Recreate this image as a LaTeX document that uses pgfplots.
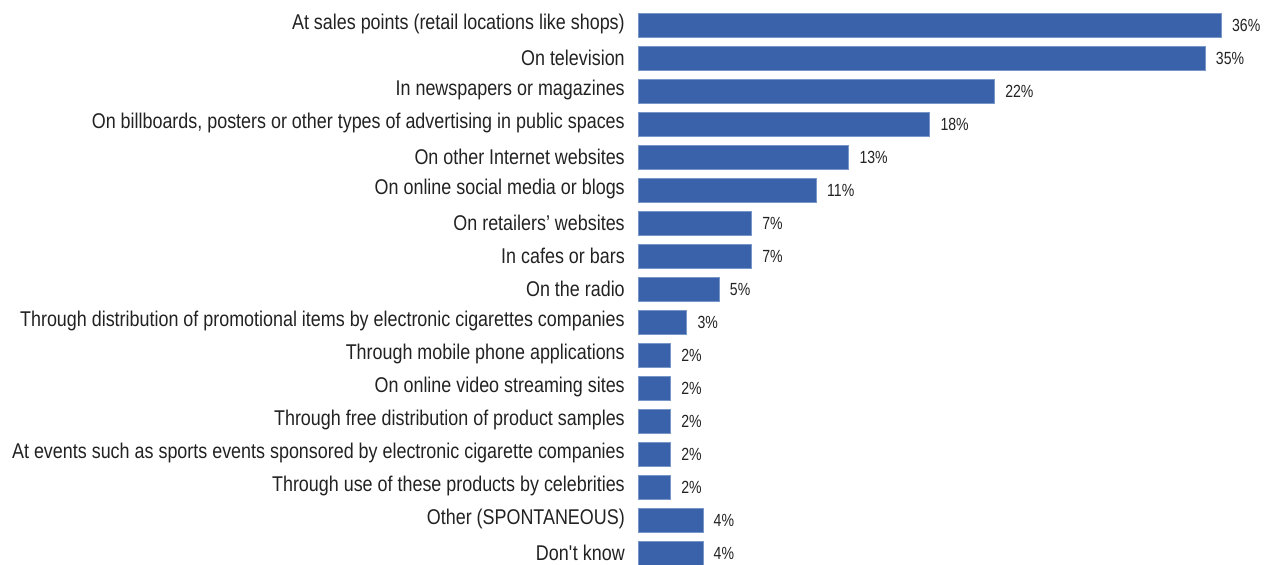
\documentclass[border=0pt]{standalone}
\usepackage{pgfplots}
\pgfplotsset{compat=1.18}
\usepackage{fontspec}
\setmainfont[FakeStretch=0.84]{Liberation Sans}
\newfontfamily\numfont[FakeStretch=0.8]{Liberation Sans}
\definecolor{barblue}{RGB}{57,98,170}
\definecolor{baredge}{RGB}{120,150,200}
\definecolor{txt}{RGB}{34,34,34}
\begin{document}
\begin{tikzpicture}
\begin{axis}[
  at={(478.5pt,-4.5pt)}, anchor=south west,
  scale only axis, width=461.7pt, height=420.75pt,
  xbar, bar width=18pt,
  xmin=0, xmax=38, ymin=-0.5, ymax=16.5, y dir=reverse,
  ytick={0,...,16},
  yticklabels={
    At sales points (retail locations like shops),
    On television,
    In newspapers or magazines,
    {On billboards, posters or other types of advertising in public spaces},
    On other Internet websites,
    On online social media or blogs,
    On retailers’ websites,
    In cafes or bars,
    On the radio,
    Through distribution of promotional items by electronic cigarettes companies,
    Through mobile phone applications,
    On online video streaming sites,
    Through free distribution of product samples,
    At events such as sports events sponsored by electronic cigarette companies,
    Through use of these products by celebrities,
    Other (SPONTANEOUS),
    Don\textquotesingle t know},
  xtick=\empty,
  axis line style={draw=none}, major tick length=0pt,
  tick label style={inner sep=0pt},
  yticklabel style={font=\fontsize{16}{18}\selectfont, color=txt, anchor=east, xshift=-9.75pt, yshift=0.8pt},
  /pgf/number format/assume math mode=true,
  nodes near coords={\pgfmathprintnumber{\pgfplotspointmeta}\%},
  point meta=x,
  nodes near coords style={font=\numfont\fontsize{13.2}{16}\selectfont, color=txt, anchor=west, inner sep=0pt, xshift=8pt},
  clip=false,
]
\addplot[fill=barblue, draw=baredge, line width=0.4pt] table[x=v, y=i] {
i v
0 36
1 35
2 22
3 18
4 13
5 11
6 7
7 7
8 5
9 3
10 2
11 2
12 2
13 2
14 2
15 4
16 4
};
\end{axis}
\pgfresetboundingbox
\useasboundingbox (0pt,0pt) rectangle (949.5pt,423pt);
\end{tikzpicture}
\end{document}
